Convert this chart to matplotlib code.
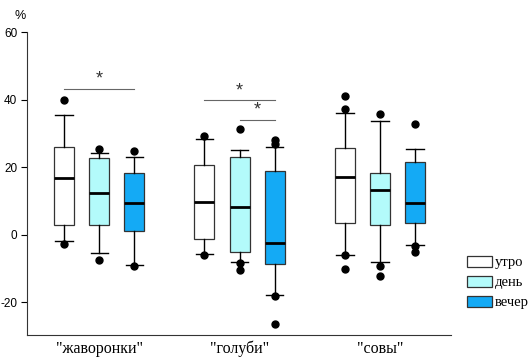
import matplotlib
matplotlib.use('Agg')
import matplotlib.pyplot as plt
from matplotlib.patches import Patch

plt.rcParams['axes.unicode_minus'] = False

# data (percent)
groups = ['"жаворонки"', '"голуби"', '"совы"']
times = ['утро', 'день', 'вечер']
colors = ['#ffffff', '#b3fbfb', '#14aaf5']

q1 = [2.8, 3.0, 1.0, -1.3, -5.1, -8.6, 3.5, 2.9, 3.5]
med = [16.9, 12.4, 9.5, 9.8, 8.3, -2.4, 17.0, 13.3, 9.5]
q3 = [26.0, 22.7, 18.3, 20.5, 22.9, 18.8, 25.6, 18.4, 21.5]
whislo = [-1.8, -5.4, -9.1, -5.7, -8.1, -18.0, -5.9, -8.1, -3.2]
whishi = [35.5, 24.2, 23.1, 28.4, 25.1, 26.0, 36.0, 33.6, 25.5]
fliers = [
    [40.0, -2.7],
    [25.4, -7.5],
    [24.8, -9.3],
    [29.2, -5.9],
    [31.3, -8.4, -10.4],
    [27.9, 26.7, -18.1, -26.4],
    [41.0, 37.3, -6.1, -10.2],
    [35.6, -9.4, -12.3],
    [32.8, -3.4, -5.2],
]

positions = [1, 2, 3, 5, 6, 7, 9, 10, 11]

stats = []
for i in range(len(med)):
    stats.append(dict(med=med[i], q1=q1[i], q3=q3[i],
                      whislo=whislo[i], whishi=whishi[i], fliers=fliers[i]))

fig = plt.figure(figsize=(5.32, 3.62), dpi=100)
ax = fig.add_axes([0.0508, 0.0746, 0.797, 0.837])

bp = ax.bxp(stats, positions=positions, widths=0.57, patch_artist=True,
            showfliers=True,
            boxprops=dict(edgecolor='#333333', linewidth=0.9),
            medianprops=dict(color='black', linewidth=2),
            whiskerprops=dict(color='black', linewidth=1),
            capprops=dict(color='black', linewidth=1),
            flierprops=dict(marker='o', markerfacecolor='black',
                            markeredgecolor='black', markersize=5))
for i, box in enumerate(bp['boxes']):
    box.set_facecolor(colors[i % 3])
for cap in bp['caps']:
    x = cap.get_xdata()
    c = (x[0] + x[1]) / 2
    cap.set_xdata([c - 0.25, c + 0.25])

# significance markers
sig = [(1, 3, 43.2), (5, 7, 39.8), (6, 7, 34.0)]
for x0, x1, y in sig:
    ax.plot([x0, x1], [y, y], color='#666666', linewidth=0.8)
    ax.text((x0 + x1) / 2, y + 0.3, '*', ha='center', va='bottom',
            fontsize=13, color='#333333', family='Liberation Sans')

ax.set_xlim(-0.06, 12.03)
ax.set_ylim(-29.7, 60)
ax.set_yticks([-20, 0, 20, 40, 60])
ax.set_xticks([2, 6, 10])
ax.set_xticklabels(groups, family='Liberation Serif', fontsize=11.5)
ax.tick_params(axis='x', length=0, pad=4)
ax.tick_params(axis='y', length=4, width=0.8, labelsize=8.5, pad=3)
for lbl in ax.get_yticklabels():
    lbl.set_family('Liberation Sans')
ax.spines['top'].set_visible(False)
ax.spines['right'].set_visible(False)
ax.spines['left'].set_bounds(-29.7, 60)
ax.spines['left'].set_color('#333333')
ax.spines['bottom'].set_color('#333333')

fig.text(0.028, 0.955, '%', fontsize=9, family='Liberation Sans',
         ha='left', va='center')

handles = [Patch(facecolor=c, edgecolor='#333333', linewidth=0.9)
           for c in colors]
fig.legend(handles, times, loc='upper left', bbox_to_anchor=(0.877, 0.293),
           frameon=False, prop=dict(family='Liberation Serif', size=10.5),
           handlelength=1.75, handleheight=0.75, handletextpad=0.2,
           labelspacing=0.45, borderpad=0, borderaxespad=0)

fig.savefig('out.png', dpi=100)
